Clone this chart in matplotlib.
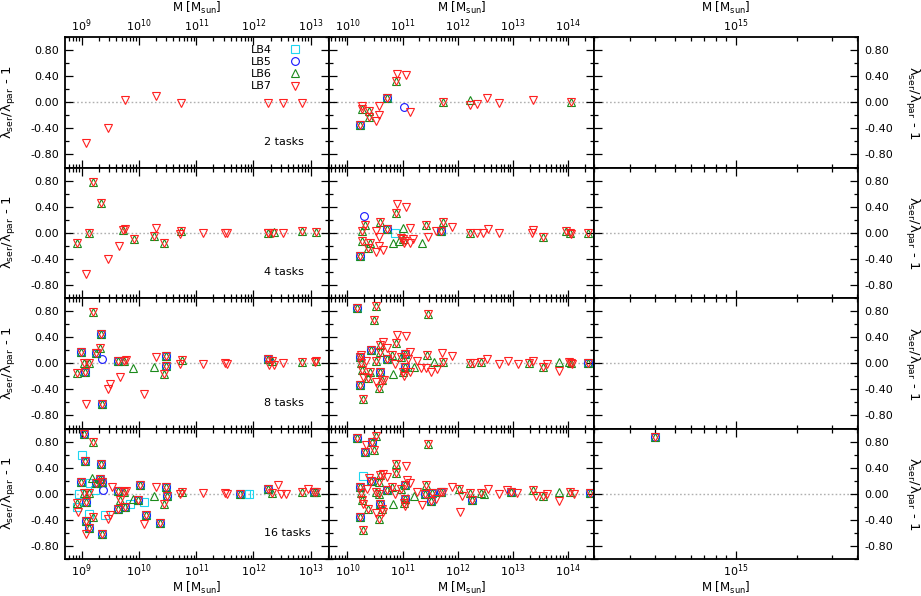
import numpy as np
import matplotlib
matplotlib.use("Agg")
import matplotlib.pyplot as plt
from matplotlib.lines import Line2D
from matplotlib.ticker import LogLocator, LogFormatterSciNotation, MultipleLocator, FormatStrFormatter, NullFormatter

plt.rcParams['font.family'] = ['DejaVu Sans']
plt.rcParams['mathtext.fontset'] = 'dejavusans'
plt.rcParams['font.size'] = 8

# ---------------- data: (log10 M, lambda_ser/lambda_par - 1) ----------------
# "all" = LB4..LB7 coincide, "lb67" = LB6 and LB7 coincide, others single runs
# ---- 2 tasks ----
L2_lb7 = [(9.08, -0.63), (9.45, -0.40), (9.76, 0.04), (10.29, 0.09), (10.73, -0.01),
          (12.25, -0.01), (12.51, -0.01), (12.85, -0.01)]
M2_all = [(10.23, -0.35), (10.72, 0.07)]
M2_lb67 = [(10.27, -0.10), (10.40, -0.14), (10.40, -0.22), (10.89, 0.32), (11.73, 0.01), (14.05, 0.0)]
M2_lb5 = [(11.02, -0.08)]
M2_lb6 = [(12.23, 0.04)]
M2_lb7 = [(10.27, -0.05), (10.57, -0.06), (10.57, -0.20), (10.51, -0.29), (10.90, 0.44), (11.07, 0.41),
          (11.14, -0.15), (12.23, -0.04), (12.35, -0.02), (12.53, 0.06), (12.74, -0.01), (13.36, 0.04)]
# ---- 4 tasks ----
L4_lb67 = [(8.92, -0.15), (9.12, 0.0), (9.19, 0.78), (9.33, 0.45), (9.72, 0.04), (9.91, -0.10),
           (10.27, -0.05), (10.44, -0.16), (10.74, 0.03), (12.26, 0.0), (12.84, 0.02), (13.09, 0.01)]
L4_lb6 = [(12.36, 0.01)]
L4_lb7 = [(9.08, -0.63), (9.46, -0.40), (9.65, -0.21), (9.76, 0.05), (10.29, 0.08), (10.71, -0.02),
          (11.11, -0.01), (11.50, 0.0), (11.54, 0.0), (12.25, -0.01), (12.35, -0.01), (12.51, -0.01)]
M4_all = [(10.23, -0.35), (10.72, 0.06), (11.70, 0.02)]
M4_lb4 = [(10.86, 0.0)]
M4_lb5 = [(10.30, 0.26)]
M4_lb67 = [(10.26, 0.03), (10.32, 0.12), (10.27, -0.12), (10.41, -0.15), (10.38, -0.23), (10.60, 0.17),
           (10.89, 0.31), (11.01, -0.10), (11.43, 0.12), (11.73, 0.17), (12.23, 0.0), (13.55, -0.06),
           (13.96, 0.02), (14.04, 0.0), (14.37, 0.0)]
M4_lb6 = [(11.0, 0.08), (10.83, -0.16), (11.36, -0.16), (10.93, -0.12)]
M4_lb7 = [(10.52, 0.02), (10.57, -0.06), (10.51, -0.30), (10.58, -0.21), (10.64, -0.27), (10.90, 0.44),
          (11.07, 0.40), (11.14, 0.07), (11.19, -0.09), (11.14, -0.16), (11.46, -0.07), (11.60, 0.02),
          (11.90, 0.09), (12.35, -0.01), (12.45, -0.01), (12.54, 0.05), (12.74, -0.01), (13.34, -0.01),
          (13.37, 0.04), (14.05, -0.02), (10.98, -0.08), (11.05, -0.12), (11.02, -0.15)]
# ---- 8 tasks ----
L8_all = [(8.98, 0.17), (9.06, -0.14), (9.25, 0.15), (9.33, 0.45), (9.35, -0.63), (9.64, 0.03),
          (10.47, 0.11), (10.48, -0.04), (12.25, 0.07)]
L8_lb5 = [(9.36, 0.06)]
L8_lb67 = [(8.92, -0.15), (9.04, 0.0), (9.12, 0.0), (9.19, 0.79), (9.31, 0.23), (9.73, 0.04),
           (10.43, -0.16), (10.75, 0.05), (12.33, 0.03), (12.84, 0.02), (13.09, 0.03)]
L8_lb6 = [(9.89, -0.08), (10.26, -0.05)]
L8_lb7 = [(9.08, -0.62), (9.45, -0.39), (9.50, -0.32), (9.66, -0.21), (9.78, 0.05), (10.08, -0.47),
          (10.29, 0.10), (10.71, -0.01), (11.11, -0.01), (11.51, 0.0), (11.54, -0.01), (12.27, -0.02),
          (12.36, -0.03), (12.51, 0.0), (13.08, 0.02)]
M8_all = [(10.18, 0.85), (10.23, -0.34), (10.23, 0.09), (10.42, 0.21), (10.72, 0.07), (11.05, 0.14),
          (11.04, -0.06), (14.37, 0.0), (10.59, -0.13)]
M8_lb67 = [(10.52, 0.88), (11.46, 0.76), (10.49, 0.66), (10.89, 0.31), (10.60, 0.28), (10.59, 0.17),
           (10.24, 0.0), (10.27, -0.11), (10.41, -0.14), (10.38, -0.23), (10.52, 0.04), (10.58, -0.38),
           (10.29, -0.55), (10.63, -0.25), (10.81, 0.12), (10.98, 0.09), (11.01, -0.14), (11.45, 0.13),
           (11.73, 0.02), (12.23, 0.0), (12.43, 0.02), (13.30, 0.0), (13.55, -0.06), (14.01, 0.02), (14.05, 0.0)]
M8_lb6 = [(10.83, -0.16), (11.20, -0.05), (11.57, 0.02), (13.83, 0.02)]
M8_lb7 = [(10.90, 0.44), (11.07, 0.41), (10.64, 0.32), (10.71, 0.23), (10.24, 0.12), (10.34, 0.04),
          (10.87, -0.01), (11.10, 0.07), (11.14, 0.17), (11.27, 0.03), (11.33, -0.08), (11.42, -0.08),
          (11.51, -0.14), (11.63, -0.09), (11.72, 0.16), (11.90, 0.11), (12.29, 0.0), (12.53, 0.07),
          (12.74, -0.01), (12.91, 0.04), (13.09, -0.01), (13.37, 0.04), (13.61, -0.01), (13.84, -0.12),
          (14.07, -0.01), (10.29, -0.21), (10.51, -0.28), (10.66, -0.26), (11.02, -0.19), (11.14, -0.14)]
# ---- 16 tasks ----
L16_all = [(9.04, 0.91), (9.06, 0.50), (9.33, 0.45), (8.98, 0.18), (9.31, 0.23), (9.25, 0.16),
           (9.36, 0.18), (9.07, -0.13), (9.08, -0.41), (9.12, -0.53), (9.35, -0.62), (9.64, 0.04),
           (9.63, -0.24), (9.76, -0.20), (10.01, 0.13), (9.98, -0.09), (10.13, -0.33), (10.36, -0.45),
           (10.48, 0.11), (10.49, -0.03), (11.76, -0.01), (12.25, 0.08), (13.05, 0.02)]
L16_lb4 = [(9.0, 0.60), (8.95, 0.0), (8.91, -0.21), (9.13, -0.31), (9.23, 0.06), (9.15, 0.16),
           (9.40, -0.32), (9.85, -0.15), (10.08, -0.13), (11.87, 0.0), (11.92, 0.0)]
L16_lb5 = [(9.37, 0.06)]
L16_lb67 = [(9.19, 0.79), (8.92, -0.14), (9.04, 0.01), (9.12, 0.01), (9.19, -0.35), (9.66, -0.09),
            (9.73, 0.03), (10.43, -0.16), (10.75, 0.03), (12.33, 0.01), (12.84, 0.02), (13.09, 0.02)]
L16_lb6 = [(9.18, 0.24), (10.27, -0.04), (9.89, -0.08)]
L16_lb7 = [(8.94, -0.28), (9.08, -0.62), (9.45, -0.39), (9.50, -0.32), (9.53, 0.11), (9.78, 0.04),
           (10.08, -0.47), (10.30, 0.10), (10.71, 0.0), (11.11, 0.01), (11.50, 0.01), (11.54, 0.0),
           (12.43, 0.13), (12.48, 0.0), (12.57, 0.0), (12.95, 0.08)]
M16_all = [(10.18, 0.85), (10.45, 0.80), (10.32, 0.64), (10.23, -0.35), (10.23, 0.11), (10.42, 0.20),
           (10.72, 0.06), (11.05, 0.14), (11.05, -0.08), (11.40, 0.0), (11.51, -0.11), (11.54, 0.01),
           (11.69, 0.03), (12.26, -0.09), (12.97, 0.02), (14.39, 0.01), (10.60, -0.15)]
M16_lb4 = [(10.29, 0.27)]
M16_lb67 = [(10.52, 0.88), (11.46, 0.77), (10.49, 0.67), (10.89, 0.46), (10.88, 0.32), (10.60, 0.28),
            (10.58, 0.18), (10.25, 0.01), (10.27, -0.09), (10.38, -0.23), (10.58, -0.38), (10.29, -0.56),
            (10.63, -0.24), (10.81, 0.11), (10.98, 0.08), (11.02, -0.14), (11.42, 0.13), (12.02, 0.08),
            (12.23, 0.01), (12.43, 0.01), (13.37, 0.06), (13.55, -0.04), (14.04, 0.02), (10.57, -0.01),
            (10.51, 0.03)]
M16_lb6 = [(10.83, -0.15), (11.20, -0.04), (13.83, 0.02), (12.47, -0.01)]
M16_lb7 = [(10.34, 0.74), (11.07, 0.42), (10.64, 0.31), (10.72, 0.25), (10.39, 0.24), (10.36, 0.08),
           (10.87, -0.01), (11.14, 0.16), (11.27, 0.03), (11.36, -0.18), (11.61, -0.08), (11.73, 0.03),
           (11.90, 0.11), (12.05, -0.28), (12.08, -0.03), (12.55, 0.08), (12.74, 0.0), (12.89, 0.05),
           (13.07, 0.01), (13.42, -0.03), (13.61, -0.01), (13.83, -0.11), (14.10, -0.01), (10.52, -0.30),
           (10.64, -0.28), (11.05, -0.19), (10.29, -0.15), (11.08, 0.21)]
R16_all = [(14.60, 0.87)]

task_labels = ["2 tasks", "4 tasks", "8 tasks", "16 tasks"]
series_names = ["LB4", "LB5", "LB6", "LB7"]

panels = {
    (0, 0): dict(lb7=L2_lb7),
    (0, 1): dict(all=M2_all, lb67=M2_lb67, lb5=M2_lb5, lb6=M2_lb6, lb7=M2_lb7),
    (1, 0): dict(lb67=L4_lb67, lb6=L4_lb6, lb7=L4_lb7),
    (1, 1): dict(all=M4_all, lb4=M4_lb4, lb5=M4_lb5, lb67=M4_lb67, lb6=M4_lb6, lb7=M4_lb7),
    (2, 0): dict(all=L8_all, lb5=L8_lb5, lb67=L8_lb67, lb6=L8_lb6, lb7=L8_lb7),
    (2, 1): dict(all=M8_all, lb67=M8_lb67, lb6=M8_lb6, lb7=M8_lb7),
    (3, 0): dict(all=L16_all, lb4=L16_lb4, lb5=L16_lb5, lb67=L16_lb67, lb6=L16_lb6, lb7=L16_lb7),
    (3, 1): dict(all=M16_all, lb4=M16_lb4, lb67=M16_lb67, lb6=M16_lb6, lb7=M16_lb7),
    (3, 2): dict(all=R16_all),
}

# ---------------- styling ----------------
styles = {
    "LB4": dict(marker="s", color="#1ed6f0"),
    "LB5": dict(marker="o", color="#1414ff"),
    "LB6": dict(marker="^", color="#1b8a1b"),
    "LB7": dict(marker="v", color="#ff2020"),
}
MS = 5.6
MEW = 0.8


def to_xy(groups):
    pts = [p for g in groups for p in g]
    if not pts:
        return np.array([]), np.array([])
    a = np.array(pts, dtype=float)
    return 10 ** a[:, 0], a[:, 1]


def panel_series(d):
    g = lambda k: d.get(k, [])
    return {
        "LB4": to_xy([g("all"), g("lb4")]),
        "LB5": to_xy([g("all"), g("lb5")]),
        "LB6": to_xy([g("all"), g("lb67"), g("lb6")]),
        "LB7": to_xy([g("all"), g("lb67"), g("lb7")]),
    }


W, H = 921, 596
xs = [65, 329, 594, 858]
ys = [37, 167.5, 298, 428.5, 559]
xlims = [(10 ** 8.707, 10 ** 13.32), (10 ** 9.667, 10 ** 14.47), (10 ** 14.30, 10 ** 15.605)]
ylab = "λ$_{\\rm ser}$/λ$_{\\rm par}$ - 1"
xlab = "M [M$_{\\rm sun}$]"

fig = plt.figure(figsize=(W / 100, H / 100), dpi=100)

for r in range(4):
    for c in range(3):
        x0, x1 = xs[c], xs[c + 1]
        y0, y1 = ys[r], ys[r + 1]
        ax = fig.add_axes([x0 / W, 1 - y1 / H, (x1 - x0) / W, (y1 - y0) / H])
        ax.set_xscale("log")
        ax.set_xlim(*xlims[c])
        ax.set_ylim(-1, 1)
        ax.axhline(0, color="#b0b0b0", lw=1.0, ls=(0, (1.2, 1.6)), zorder=0)

        d = panels.get((r, c), {})
        ser = panel_series(d)
        for name in series_names:
            x, y = ser[name]
            if len(x):
                st = styles[name]
                ax.plot(x, y, ls="none", marker=st["marker"], mfc="none", mec=st["color"],
                        ms=MS, mew=MEW, clip_on=False, zorder=3)

        for s in ax.spines.values():
            s.set_linewidth(1.3)
        ax.xaxis.set_major_locator(LogLocator(base=10, numticks=30))
        ax.xaxis.set_minor_locator(LogLocator(base=10, subs=np.arange(2, 10), numticks=200))
        ax.xaxis.set_major_formatter(LogFormatterSciNotation())
        ax.xaxis.set_minor_formatter(NullFormatter())
        ax.yaxis.set_major_locator(MultipleLocator(0.4))
        ax.yaxis.set_minor_locator(MultipleLocator(0.2))
        ax.yaxis.set_major_formatter(FormatStrFormatter("%.2f"))
        ax.tick_params(which="both", direction="in", top=True, bottom=True, left=True, right=True,
                       width=0.9, labelsize=8, color="black")
        ax.tick_params(which="major", length=5.5)
        ax.tick_params(which="minor", length=3)
        ax.tick_params(axis="x", labeltop=(r == 0), labelbottom=(r == 3), pad=2.5)
        ax.tick_params(axis="y", labelleft=(c == 0), labelright=(c == 2), pad=4.5)

        if r == 0:
            ax.xaxis.set_label_position("top")
            ax.set_xlabel(xlab, fontsize=8.5, va="center")
            ax.xaxis.set_label_coords(0.5, 1 + (37 - 8) / 130.5)
        elif r == 3:
            ax.set_xlabel(xlab, fontsize=8.5, va="center")
            ax.xaxis.set_label_coords(0.5, -(588 - 559) / 130.5)

        if c == 0:
            ax.set_ylabel(ylab, fontsize=9.5, va="center")
            ax.yaxis.set_label_coords((9 - 65) / 264, 0.5)
            ax.text(0.754, 0.197, task_labels[r], transform=ax.transAxes,
                    ha="left", va="center", fontsize=8)
        elif c == 2:
            ax.yaxis.set_label_position("right")
            ax.set_ylabel(ylab, fontsize=9.5, rotation=270, va="center")
            ax.yaxis.set_label_coords((912 - 594) / 264, 0.5)

        if r == 0 and c == 0:
            handles = [Line2D([], [], ls="none", marker=styles[n]["marker"], mfc="none",
                              mec=styles[n]["color"], ms=MS, mew=MEW) for n in series_names]
            ax.legend(handles, series_names, loc="upper right", bbox_to_anchor=(0.926, 0.94),
                      markerfirst=False, frameon=False, handlelength=2.6, handletextpad=0.8,
                      labelspacing=0.2, borderpad=0, borderaxespad=0, fontsize=8)

fig.savefig("out.png", dpi=100)
